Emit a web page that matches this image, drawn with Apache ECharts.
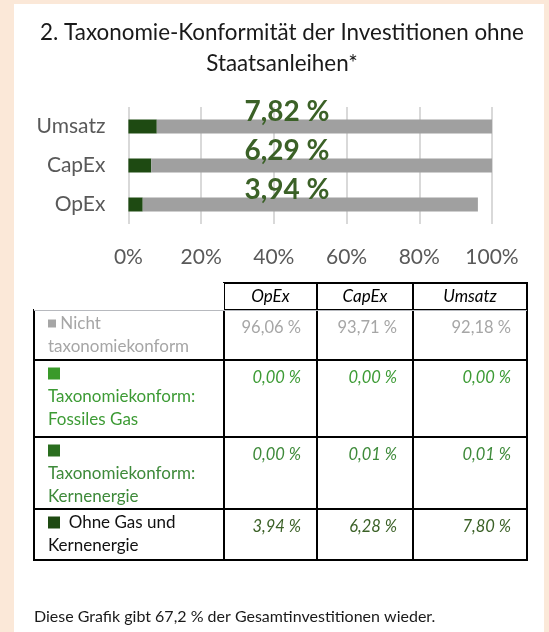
<!DOCTYPE html>
<html>
<head>
<meta charset="utf-8">
<script src="https://cdn.jsdelivr.net/npm/echarts@6/dist/echarts.min.js"></script>
<style>
	html, body { margin: 0; padding: 0; background: #fbe8d8; }
	#chart { position: absolute; left: 14px; top: 4px; width: 530px; height: 628px; background: #fff; }
</style>
</head>
<body>
<div id="chart"></div>
<script>
// Daten
const categories = ['OpEx', 'CapEx', 'Umsatz'];
const nichtKonform = [96.06, 93.71, 92.18];
const fossilesGas = [0.00, 0.00, 0.00];
const kernenergie = [0.00, 0.01, 0.01];
const ohneGasKern = [3.94, 6.28, 7.80];
const konformGesamt = [3.94, 6.29, 7.82];
// graue Balken
const nichtKonformBalken = [92.18, 93.71, 96.06];
const xTicks = [0, 20, 40, 60, 80, 100];
const rowNames = ['Nicht taxonomiekonform', 'Taxonomiekonform: Fossiles Gas', 'Taxonomiekonform: Kernenergie', 'Ohne Gas und Kernenergie'];

(function () {
	const FONT = 'Lato';
	const fmt = v => v.toFixed(2).replace('.', ',') + ' %';
	let myChart = echarts.init(document.getElementById('chart'));

	// Tabellenzeilen
	const rows = [nichtKonform, fossilesGas, kernenergie, ohneGasKern];
	const rowLabels = [
		'{sqA|}{g| Nicht}\n{g|taxonomiekonform}',
		'{sqB|}\n{gn|Taxonomiekonform:}\n{gn|Fossiles Gas}',
		'{sqC|}\n{gk|Taxonomiekonform:}\n{gk|Kernenergie}',
		'{sqD|}{b|  Ohne Gas und}\n{b|Kernenergie}'
	];
	const txt = c => ({ color: c, fontSize: 17, fontFamily: FONT, lineHeight: 23 });
	const rich = {
		g: txt('#a6a6a6'),
		gn: txt('#3d9b35'),
		gk: txt('#3e8a3a'),
		b: txt('#111'),
		sqA: { width: 8, height: 8, backgroundColor: '#a6a6a6', lineHeight: 23 },
		sqB: { width: 12, height: 12, backgroundColor: '#3a9a2a', lineHeight: 23 },
		sqC: { width: 12, height: 12, backgroundColor: '#2a6e1f', lineHeight: 23 },
		sqD: { width: 12, height: 12, backgroundColor: '#1e4a12', lineHeight: 23 }
	};
	const valueColors = ['#a6a6a6', '#3d9b35', '#3e8a3a', '#3b6127'];
	const cells = [];
	rows.forEach(function (arr, r) {
		cells.push({
			coord: [0, r],
			value: rowLabels[r],
			label: {
				position: 'insideTopLeft',
				align: 'left',
				padding: [2, 0, 0, 14],
				overflow: 'none',
				lineOverflow: 'none',
				rich: rich
			}
		});
		arr.forEach(function (v, c) {
			cells.push({
				coord: [c + 1, r],
				value: fmt(v),
				label: { color: valueColors[r], fontStyle: r === 0 ? 'normal' : 'italic' }
			});
		});
	});
	const colWidths = [190, 93, 96, 114];
	const rowHeights = [50, 77, 72, 51];
	const border = { borderColor: '#000', borderWidth: 2, color: '#fff' };

	const option = {
		title: [
			{
				text: '2. Taxonomie-Konformität der Investitionen ohne\nStaatsanleihen*',
				left: 263,
				top: 8,
				textAlign: 'center',
				textStyle: { fontFamily: FONT, fontSize: 22.4, fontWeight: 'normal', color: '#1a1a1a', lineHeight: 31 }
			},
			{
				text: 'Diese Grafik gibt 67,2 % der Gesamtinvestitionen wieder.',
				left: 20,
				top: 605,
				padding: 0,
				textStyle: { fontFamily: FONT, fontSize: 16, fontWeight: 'normal', color: '#1a1a1a' }
			}
		],
		grid: { left: 114.4, right: 52, top: 103, height: 117 },
		xAxis: {
			type: 'value',
			min: 0,
			max: 100,
			interval: 20,
			axisLine: { show: false },
			axisTick: { show: false },
			axisLabel: { formatter: '{value}%', fontFamily: FONT, fontSize: 21, color: '#595959', margin: 23 },
			splitLine: { lineStyle: { color: '#d9d9d9', width: 2 } }
		},
		yAxis: {
			type: 'category',
			data: categories,
			axisLine: { show: false },
			axisTick: { show: false },
			axisLabel: { fontFamily: FONT, fontSize: 21, color: '#595959', margin: 23 }
		},
		series: [
			{
				name: 'Ohne Gas und Kernenergie',
				type: 'bar',
				stack: 'all',
				barWidth: 14,
				data: ohneGasKern,
				itemStyle: { color: '#1e4a12' },
				label: {
					show: true,
					position: [158.6, -7.5],
					align: 'center',
					verticalAlign: 'middle',
					fontFamily: FONT,
					fontSize: 28,
					fontWeight: 'bold',
					color: '#3b6127',
					formatter: p => fmt(konformGesamt[p.dataIndex])
				}
			},
			{ name: 'Kernenergie', type: 'bar', stack: 'all', data: kernenergie, itemStyle: { color: '#2a6e1f' } },
			{ name: 'Fossiles Gas', type: 'bar', stack: 'all', data: fossilesGas, itemStyle: { color: '#3a9a2a' } },
			{ name: 'Nicht taxonomiekonform', type: 'bar', stack: 'all', data: nichtKonformBalken, itemStyle: { color: '#a0a0a0' } }
		],
		// Tabelle
		matrix: {
			left: 20,
			top: 279,
			width: 493,
			height: 277,
			x: {
				data: [''].concat(categories).map((c, i) => (i === 0
					? { value: c, size: colWidths[i], itemStyle: { borderColor: 'transparent', borderWidth: 0 } }
					: { value: c, size: colWidths[i] })),
				levelSize: 27,
				label: { fontFamily: FONT, fontSize: 17, fontStyle: 'italic', color: '#000' },
				itemStyle: border
			},
			y: {
				show: false,
				data: rowNames.map((t, i) => ({ value: t, size: rowHeights[i] }))
			},
			body: {
				data: cells,
				label: {
					fontFamily: FONT,
					fontSize: 16.5,
					position: 'insideTopRight',
					align: 'right',
					verticalAlign: 'top',
					lineHeight: 24,
					padding: [6, 16, 0, 0]
				},
				itemStyle: border
			},
			backgroundStyle: { color: 'transparent', borderWidth: 0 }
		}
	};
	myChart.setOption(option);
})();
</script>
</body>
</html>
